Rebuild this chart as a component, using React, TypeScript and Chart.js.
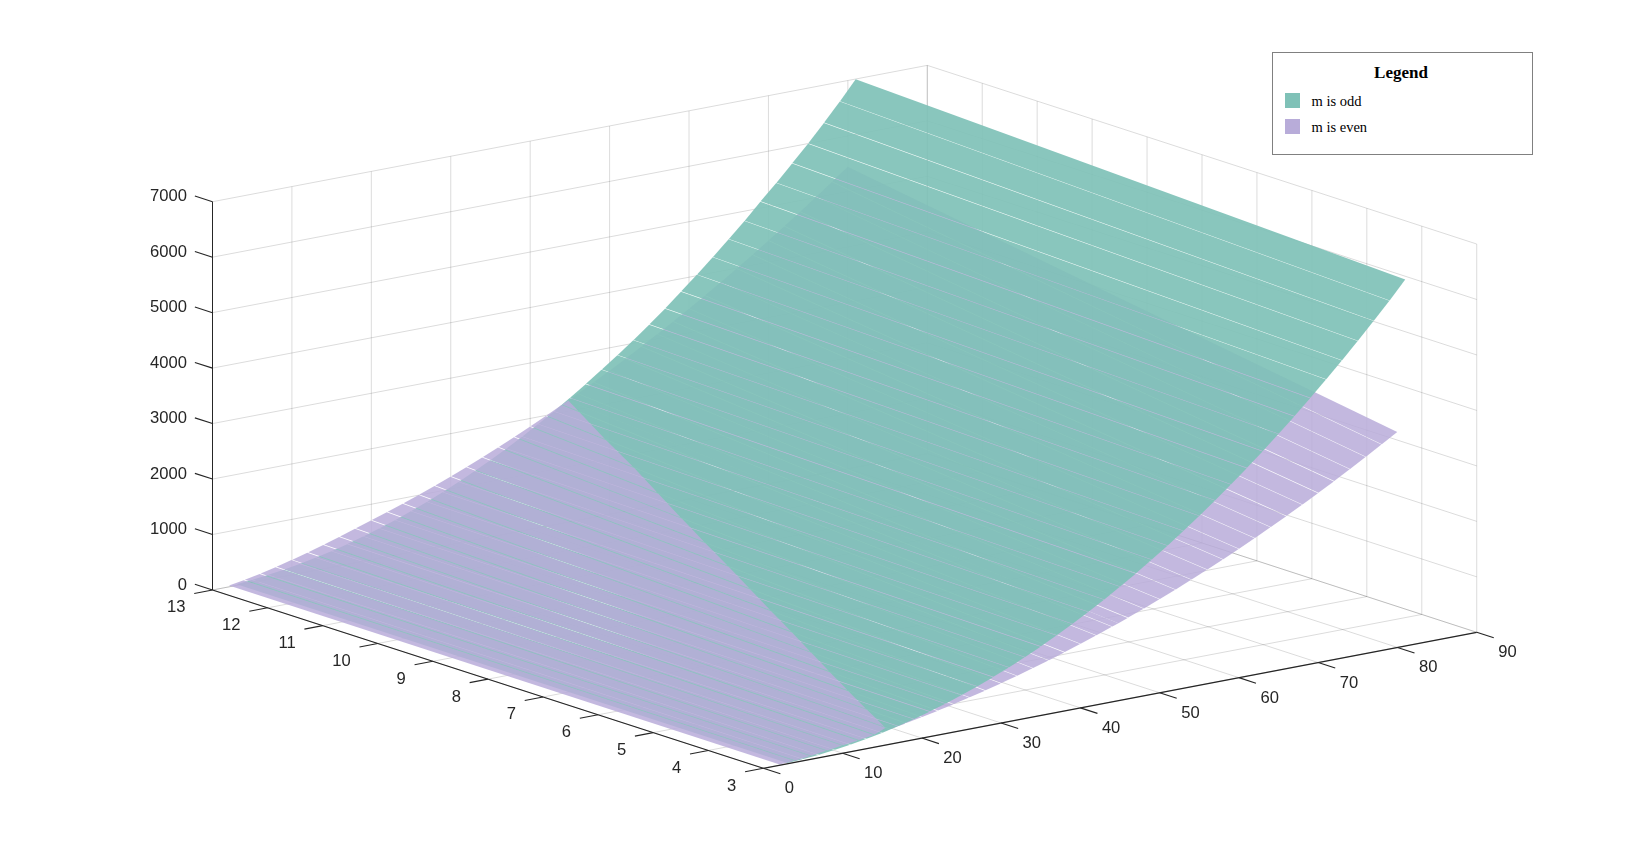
import React, { useEffect, useRef } from "react";
import { Chart, registerables } from "chart.js";

Chart.register(...registerables);

// Axis ticks
const nTicks = [3, 4, 5, 6, 7, 8, 9, 10, 11, 12, 13];
const mTicks = [0, 10, 20, 30, 40, 50, 60, 70, 80, 90];
const zTicks = [0, 1000, 2000, 3000, 4000, 5000, 6000, 7000];

// Surface "m is odd": m = 3, 5, ... 81
const oddM = [3, 5, 7, 9, 11, 13, 15, 17, 19, 21, 23, 25, 27, 29, 31, 33, 35, 37, 39, 41, 43, 45, 47, 49, 51, 53, 55, 57, 59, 61, 63, 65, 67, 69, 71, 73, 75, 77, 79, 81];
const oddAtN3 = [11, 28, 52, 86, 126, 176, 232, 298, 370, 452, 540, 638, 742, 856, 976, 1106, 1242, 1388, 1540, 1702, 1870, 2048, 2232, 2426, 2626, 2836, 3052, 3278, 3510, 3752, 4000, 4258, 4522, 4796, 5076, 5366, 5662, 5968, 6280, 6610];
const oddAtN13 = [22, 47, 80, 121, 170, 227, 292, 365, 446, 536, 633, 738, 851, 973, 1102, 1240, 1385, 1539, 1700, 1870, 2047, 2233, 2430, 2634, 2840, 3056, 3284, 3518, 3770, 4020, 4280, 4550, 4825, 5120, 5400, 5700, 6000, 6320, 6650, 7000];

// Surface "m is even": m = 2, 4, ... 80
const evenM = [2, 4, 6, 8, 10, 12, 14, 16, 18, 20, 22, 24, 26, 28, 30, 32, 34, 36, 38, 40, 42, 44, 46, 48, 50, 52, 54, 56, 58, 60, 62, 64, 66, 68, 70, 72, 74, 76, 78, 80];
const evenAtN3 = [10, 30, 62, 100, 140, 179, 223, 271, 322, 378, 438, 501, 569, 640, 716, 795, 878, 966, 1057, 1152, 1251, 1354, 1461, 1572, 1688, 1806, 1929, 2056, 2187, 2322, 2461, 2604, 2750, 2901, 3056, 3214, 3377, 3543, 3714, 3888];
const evenAtN13 = [25, 70, 130, 195, 270, 350, 435, 525, 619, 710, 805, 904, 1007, 1115, 1228, 1344, 1465, 1591, 1720, 1854, 1993, 2136, 2283, 2434, 2590, 2750, 2915, 3084, 3257, 3434, 3616, 3803, 3993, 4188, 4388, 4591, 4799, 5012, 5229, 5450];

// Where the two surfaces cross, for n = 3 ... 13
const crossingM = [15.7, 18.9, 22.1, 25.3, 28.3, 31.3, 34.1, 36.9, 39.7, 42.2, 44.8];

const TEAL = "rgba(127,193,183,0.92)";
const PURPLE = "rgba(184,172,217,0.85)";
const GRID = "rgba(0,0,0,0.14)";
const AXIS = "#262626";
const SEAM_TEAL = 0.42;
const SEAM_PURPLE_UNDER = 0.5;
const SEAM_PURPLE_OVER = 0.65;

const N_MAX = 13;
const project = (m: number, n: number, z: number) => ({
  x: 212.5 + (N_MAX - n) * 55.08 + m * (7.927 + (n - 3) * 0.0015),
  y: 590 + (N_MAX - n) * 17.83 - m * (1.511 + (n - 3) * 0.0004) - z * 0.05547,
});

const polyDataset = (pts: { x: number; y: number }[], color: string) => ({
  data: pts,
  showLine: true,
  fill: "shape",
  backgroundColor: color,
  borderWidth: 0,
  borderColor: "transparent",
  pointRadius: 0,
  tension: 0,
});

const lineDataset = (pts: { x: number; y: number }[], color: string, width = 1) => ({
  data: pts,
  showLine: true,
  fill: false,
  borderColor: color,
  borderWidth: width,
  pointRadius: 0,
  tension: 0,
});

const zAt = (arr3: number[], arr13: number[], i: number, f: number, n: number) => {
  const a = arr3[i] + (arr3[i + 1] - arr3[i]) * f;
  const b = arr13[i] + (arr13[i + 1] - arr13[i]) * f;
  return a + ((b - a) * (n - 3)) / 10;
};

// fraction of a strip taken up by the hairline seam between two facets
const seamFraction = (ms: number[], a3: number[], a13: number[], i: number, seamPx: number) => {
  const A = project(ms[i], 3, a3[i]);
  const B = project(ms[i], 13, a13[i]);
  const C = project(ms[i + 1], 3, a3[i + 1]);
  const ux = B.x - A.x;
  const uy = B.y - A.y;
  const perp = Math.abs(ux * (C.y - A.y) - uy * (C.x - A.x)) / Math.hypot(ux, uy);
  return seamPx / perp;
};

// a facet between fractions f0..f1 of strip i, running from loN to hiN on each side
const stripPoly = (
  ms: number[],
  a3: number[],
  a13: number[],
  i: number,
  f0: number,
  f1: number,
  loN: [number, number],
  hiN: [number, number],
  color: string
) => {
  const m0 = ms[i] + (ms[i + 1] - ms[i]) * f0;
  const m1 = ms[i] + (ms[i + 1] - ms[i]) * f1;
  return polyDataset(
    [
      project(m0, loN[0], zAt(a3, a13, i, f0, loN[0])),
      project(m1, loN[1], zAt(a3, a13, i, f1, loN[1])),
      project(m1, hiN[1], zAt(a3, a13, i, f1, hiN[1])),
      project(m0, hiN[0], zAt(a3, a13, i, f0, hiN[0])),
    ],
    color
  );
};

// n at which a given m sits on the crossing line
const crossingN = (m: number) => {
  if (m <= crossingM[0]) return 3;
  for (let i = 0; i < crossingM.length - 1; i++) {
    if (m <= crossingM[i + 1]) return nTicks[i] + (m - crossingM[i]) / (crossingM[i + 1] - crossingM[i]);
  }
  return 13;
};

const buildDatasets = () => {
  const list: any[] = [];
  // grid: back walls and floor
  for (const z of zTicks) {
    list.push(lineDataset([project(0, 13, z), project(90, 13, z)], GRID));
    list.push(lineDataset([project(90, 13, z), project(90, 3, z)], GRID));
  }
  for (const m of mTicks) {
    list.push(lineDataset([project(m, 13, 0), project(m, 13, 7000)], GRID));
    list.push(lineDataset([project(m, 13, 0), project(m, 3, 0)], GRID));
  }
  for (const n of nTicks) {
    list.push(lineDataset([project(90, n, 0), project(90, n, 7000)], GRID));
    list.push(lineDataset([project(0, n, 0), project(90, n, 0)], GRID));
  }
  // purple below teal, then teal, then purple above teal
  const upper: any[] = [];
  const lastCross = crossingM[crossingM.length - 1];
  for (let i = 0; i < evenM.length - 1; i++) {
    const lo = evenM[i];
    const hi = evenM[i + 1];
    const gapU = seamFraction(evenM, evenAtN3, evenAtN13, i, SEAM_PURPLE_UNDER) / 2;
    const gapO = seamFraction(evenM, evenAtN3, evenAtN13, i, SEAM_PURPLE_OVER) / 2;
    const splitHere = lo < lastCross && hi > lastCross;
    const fMid = splitHere ? (lastCross - lo) / (hi - lo) : 1 - gapO;
    const mAt = (f: number) => lo + (hi - lo) * f;
    const nc0 = crossingN(mAt(gapO));
    const nc1 = crossingN(mAt(fMid));
    if (nc0 < 13) upper.push(stripPoly(evenM, evenAtN3, evenAtN13, i, gapO, fMid, [nc0, nc1], [13, 13], PURPLE));
    if (splitHere) {
      list.push(stripPoly(evenM, evenAtN3, evenAtN13, i, gapU, fMid, [3, 3], [nc0, 13], PURPLE));
      list.push(stripPoly(evenM, evenAtN3, evenAtN13, i, fMid, 1 - gapU, [3, 3], [13, 13], PURPLE));
    } else if (nc1 > 3) {
      const u0 = crossingN(mAt(gapU));
      const u1 = crossingN(mAt(1 - gapU));
      list.push(stripPoly(evenM, evenAtN3, evenAtN13, i, gapU, 1 - gapU, [3, 3], [u0, u1], PURPLE));
    }
  }
  for (let i = 0; i < oddM.length - 1; i++) {
    const g = seamFraction(oddM, oddAtN3, oddAtN13, i, SEAM_TEAL) / 2;
    list.push(stripPoly(oddM, oddAtN3, oddAtN13, i, g, 1 - g, [3, 3], [13, 13], TEAL));
  }
  list.push(...upper);
  // axes
  list.push(lineDataset([project(0, 13, 0), project(0, 13, 7000)], AXIS));
  list.push(lineDataset([project(0, 13, 0), project(0, 3, 0)], AXIS, 1.2));
  list.push(lineDataset([project(0, 3, 0), project(90, 3, 0)], AXIS, 1.2));
  for (const z of zTicks) list.push(lineDataset([project(0, 13, z), project(0, 13.32, z)], AXIS, 1.1));
  for (const n of nTicks) list.push(lineDataset([project(0, n, 0), project(-2.3, n, 0)], AXIS, 1.1));
  for (const m of mTicks) list.push(lineDataset([project(m, 3, 0), project(m, 2.69, 0)], AXIS, 1.1));
  return list.reverse();
};

const tickLabels = {
  id: "tickLabels",
  afterDraw(chart: any) {
    const { ctx, scales } = chart;
    const px = (p: { x: number; y: number }) => ({ x: scales.x.getPixelForValue(p.x), y: scales.y.getPixelForValue(p.y) });
    ctx.save();
    ctx.font = '16.6px "Liberation Sans", Arial, sans-serif';
    ctx.fillStyle = AXIS;
    ctx.textBaseline = "middle";
    ctx.textAlign = "right";
    for (const z of zTicks) {
      const p = px(project(0, 13, z));
      ctx.fillText(String(z), p.x - 25.5, p.y - 5);
    }
    for (const n of nTicks) {
      const p = px(project(0, n, 0));
      ctx.fillText(String(n), p.x - 27, p.y + 17.8);
    }
    ctx.textAlign = "left";
    for (const m of mTicks) {
      const p = px(project(m, 3, 0));
      ctx.fillText(String(m), p.x + 21.5, p.y + 20.5);
    }
    ctx.restore();
  },
};

const serif = '"Liberation Serif", "Times New Roman", serif';

export default function App() {
  const ref = useRef<HTMLCanvasElement>(null);
  useEffect(() => {
    const chart = new Chart(ref.current as HTMLCanvasElement, {
      type: "scatter",
      data: { datasets: buildDatasets() },
      options: {
        animation: false,
        responsive: false,
        events: [],
        layout: { padding: 0 },
        plugins: { legend: { display: false }, tooltip: { enabled: false } },
        scales: {
          x: { type: "linear", min: 0, max: 1632, display: false },
          y: { type: "linear", min: 0, max: 864, reverse: true, display: false },
        },
      },
      plugins: [tickLabels],
    } as any);
    return () => chart.destroy();
  }, []);
  const swatch = (top: number, color: string) => (
    <div style={{ position: "absolute", left: 12, top, width: 15, height: 15, background: color }} />
  );
  const label = (top: number, text: string) => (
    <div style={{ position: "absolute", left: 38.5, top, fontSize: 14.5, lineHeight: "16px", color: "#000", whiteSpace: "nowrap" }}>{text}</div>
  );
  return (
    <div style={{ position: "absolute", left: 0, top: 0, width: 1632, height: 864, background: "#fff", overflow: "hidden" }}>
      <canvas ref={ref} width={1632} height={864} style={{ display: "block", width: 1632, height: 864 }} />
      <div
        style={{
          position: "absolute",
          left: 1272,
          top: 52,
          width: 259,
          height: 101,
          border: "1px solid #808080",
          background: "#fff",
          fontFamily: serif,
        }}
      >
        <div style={{ position: "absolute", left: 0, right: 0, top: 10, textAlign: "center", fontWeight: 700, fontSize: 17, lineHeight: "20px", paddingRight: 3, color: "#000" }}>
          Legend
        </div>
        {swatch(40, "rgb(127,193,183)")}
        {label(40, "m is odd")}
        {swatch(66, "rgb(184,172,217)")}
        {label(66, "m is even")}
      </div>
    </div>
  );
}
